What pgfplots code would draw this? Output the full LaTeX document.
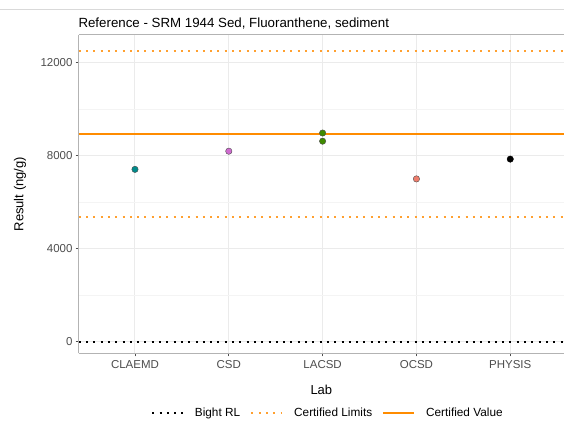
\documentclass[border=0pt]{standalone}
\usepackage{pgfplots}
\pgfplotsset{compat=1.18}
\usepackage{fontspec}
\setmainfont{Liberation Sans}
\definecolor{cteal}{HTML}{008B8B}
\definecolor{corchid}{HTML}{D06BD0}
\definecolor{cgreen}{HTML}{3F8A00}
\definecolor{csalmon}{HTML}{EE7D6C}
\definecolor{corange}{HTML}{FF8C00}
\definecolor{cdot}{HTML}{FFA030}
\definecolor{gridc}{HTML}{EBEBEB}
\definecolor{gridm}{HTML}{F4F4F4}
\definecolor{borderc}{HTML}{B3B3B3}
\definecolor{tickc}{HTML}{4D4D4D}
\definecolor{rulec}{HTML}{D9D9D9}
\begin{document}
\begin{tikzpicture}[x=1pt,y=1pt]
\path[use as bounding box] (0,0) rectangle (564,425);
\draw[rulec, line width=1.6pt] (0,415.3) -- (564,415.3);
\node[anchor=base west, inner sep=0pt, font=\fontsize{13.3}{15}\selectfont] at (78.3,397) {Reference - SRM 1944 Sed, Fluoranthene, sediment};
\begin{axis}[
  at={(78.7pt,71.7pt)}, anchor=south west,
  scale only axis, width=485.3pt, height=318.3pt,
  xmin=0.4, xmax=5.573, ymin=-500, ymax=13170,
  axis x line=box, axis y line=left,
  xtick={1,2,3,4,5},
  xticklabels={CLAEMD,CSD,LACSD,OCSD,PHYSIS},
  ytick={0,4000,8000,12000},
  minor ytick={2000,6000,10000},
  scaled y ticks=false,
  /pgf/number format/assume math mode=true,
  /pgf/number format/set thousands separator={},
  xtick pos=bottom, ytick pos=left,
  tick align=outside,
  major tick length=3pt,
  minor tick length=0pt,
  tick style={tickc, line width=0.8pt},
  xmajorgrids, ymajorgrids, yminorgrids,
  major grid style={gridc, line width=1pt},
  minor grid style={gridm, line width=0.6pt},
  axis line style={borderc, line width=1pt, -},
  ticklabel style={font=\fontsize{11.5}{13}\selectfont, text=tickc},
  xticklabel style={anchor=base, inner sep=0pt, yshift=-12.5pt},
  yticklabel style={anchor=east, inner sep=0pt, xshift=-3pt},
  xlabel={Lab}, ylabel={Result (ng/g)},
  every axis x label/.style={at={(axis description cs:0.5,0)}, anchor=base, inner sep=0pt, yshift=-41.3pt, font=\fontsize{13}{15}\selectfont},
  every axis y label/.style={at={([xshift=-58.7pt]axis description cs:0,0.5)}, rotate=90, anchor=center, inner sep=0pt, font=\fontsize{13}{15}\selectfont},
  legend columns=3,
  legend style={at={(0.5115,-0.1885)}, anchor=center, draw=none, fill=none,
    font=\fontsize{11.8}{13}\selectfont, inner sep=0pt,
    nodes={inner sep=0pt},
    /tikz/every odd column/.append style={column sep=10.7pt},
    /tikz/every even column/.append style={column sep=10.3pt}},
  legend image code/.code={\draw[#1] (0pt,0pt) -- (31pt,0pt);},
]
% Bight RL
\addplot[black, line width=2pt, dash pattern=on 2pt off 5.3pt] coordinates {(0.4,5) (5.573,5)};
\addlegendentry{Bight RL}
% Certified limits
\addplot[cdot, line width=2pt, dash pattern=on 2pt off 5.3pt] coordinates {(0.4,12488) (5.573,12488)};
\addlegendentry{Certified Limits}
\addplot[cdot, line width=2pt, dash pattern=on 2pt off 5.3pt, forget plot] coordinates {(0.4,5352) (5.573,5352)};
% Certified value
\addplot[corange, line width=1.9pt] coordinates {(0.4,8920) (5.573,8920)};
\addlegendentry{Certified Value}
% Lab results
\addplot[only marks, mark=*, mark size=3.2pt, mark options={fill=cteal, draw=black!70, line width=0.4pt}, forget plot] coordinates {(1,7400)};
\addplot[only marks, mark=*, mark size=3.2pt, mark options={fill=corchid, draw=black!70, line width=0.4pt}, forget plot] coordinates {(2,8180)};
\addplot[only marks, mark=*, mark size=3.2pt, mark options={fill=cgreen, draw=black!70, line width=0.4pt}, forget plot] coordinates {(3,8960) (3,8610)};
\addplot[only marks, mark=*, mark size=3.2pt, mark options={fill=csalmon, draw=black!70, line width=0.4pt}, forget plot] coordinates {(4,6990)};
\addplot[only marks, mark=*, mark size=3.2pt, mark options={fill=black, draw=black, line width=0.4pt}, forget plot] coordinates {(5,7840)};
\end{axis}
\end{tikzpicture}
\end{document}
